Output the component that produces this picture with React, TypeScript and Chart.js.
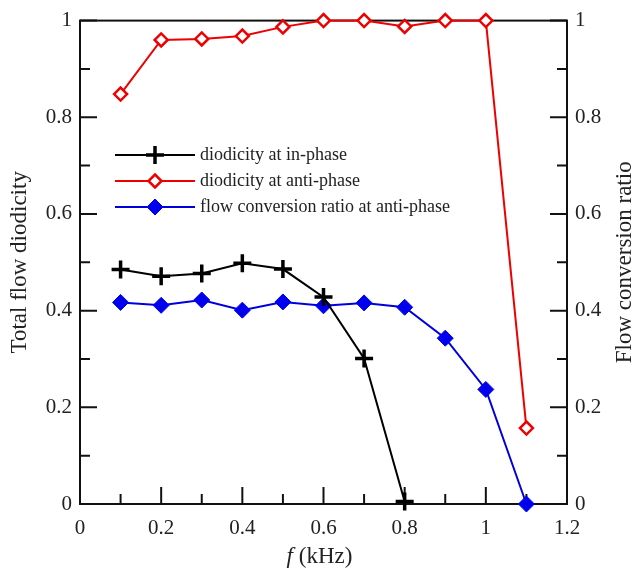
import React, { useEffect, useRef } from "react";
import { Chart, registerables } from "chart.js";

Chart.register(...registerables);

const freqInPhase = [0.1, 0.2, 0.3, 0.4, 0.5, 0.6, 0.7, 0.8];
const diodicityInPhase = [0.485, 0.471, 0.477, 0.498, 0.486, 0.428, 0.301, 0.005];

const freqAnti = [0.1, 0.2, 0.3, 0.4, 0.5, 0.6, 0.7, 0.8, 0.9, 1.0, 1.1];
const diodicityAnti = [0.848, 0.96, 0.962, 0.968, 0.987, 1.0, 1.0, 0.988, 1.0, 1.0, 0.157];
const conversionAnti = [0.417, 0.411, 0.422, 0.401, 0.418, 0.41, 0.416, 0.407, 0.343, 0.237, 0.0];

const seriesLabels = [
  "diodicity at in-phase",
  "diodicity at anti-phase",
  "flow conversion ratio at anti-phase",
];

const SERIF = "'Liberation Serif', 'DejaVu Serif', serif";

const fmt = (v: any) => String(Math.round(Number(v) * 10) / 10);

function drawMarker(ctx: CanvasRenderingContext2D, style: string, x: number, y: number, r: number) {
  ctx.beginPath();
  if (style === "cross") {
    ctx.moveTo(x - r, y);
    ctx.lineTo(x + r, y);
    ctx.moveTo(x, y - r);
    ctx.lineTo(x, y + r);
    ctx.stroke();
  } else {
    ctx.moveTo(x, y - r);
    ctx.lineTo(x + r, y);
    ctx.lineTo(x, y + r);
    ctx.lineTo(x - r, y);
    ctx.closePath();
    ctx.fill();
    ctx.stroke();
  }
}

const framePlugin = {
  id: "frameTicks",
  beforeDatasetsDraw(chart: any) {
    const { ctx, chartArea, scales } = chart;
    const { left, right, top, bottom } = chartArea;
    ctx.save();
    ctx.strokeStyle = "#111";
    ctx.lineWidth = 2;
    ctx.strokeRect(left, top, right - left, bottom - top);
    for (let i = 0; i <= 10; i++) {
      const v = i / 10;
      const len = i % 2 === 0 ? 17 : 10;
      const y = scales.y.getPixelForValue(v);
      ctx.beginPath();
      ctx.moveTo(left, y);
      ctx.lineTo(left + len, y);
      ctx.moveTo(right, y);
      ctx.lineTo(right - len, y);
      ctx.stroke();
    }
    for (let i = 0; i <= 12; i++) {
      const v = i / 10;
      const len = i % 2 === 0 ? 17 : 10;
      const x = scales.x.getPixelForValue(v);
      ctx.beginPath();
      ctx.moveTo(x, bottom);
      ctx.lineTo(x, bottom - len);
      ctx.stroke();
    }
    ctx.restore();
  },
  afterDraw(chart: any) {
    const { ctx, chartArea } = chart;
    const { left, right, top, bottom } = chartArea;
    const midY = (top + bottom) / 2;
    ctx.save();
    ctx.fillStyle = "#222";
    ctx.font = `23px ${SERIF}`;
    ctx.textAlign = "center";
    ctx.textBaseline = "middle";
    ctx.save();
    ctx.translate(20, midY);
    ctx.rotate(-Math.PI / 2);
    ctx.fillText("Total flow diodicity", 0, 0);
    ctx.restore();
    ctx.save();
    ctx.translate(625, midY);
    ctx.rotate(-Math.PI / 2);
    ctx.fillText("Flow conversion ratio", 0, 0);
    ctx.restore();

    ctx.textAlign = "left";
    ctx.font = `italic 23px ${SERIF}`;
    const fW = ctx.measureText("f").width;
    ctx.font = `23px ${SERIF}`;
    const restW = ctx.measureText(" (kHz)").width;
    const total = fW + restW;
    const cx = (left + right) / 2 - 4;
    const ty = 557;
    ctx.font = `italic 23px ${SERIF}`;
    ctx.fillText("f", cx - total / 2, ty);
    ctx.font = `23px ${SERIF}`;
    ctx.fillText(" (kHz)", cx - total / 2 + fW, ty);

    const rows = [155, 181, 207];
    const ds = chart.data.datasets;
    ctx.font = `18px ${SERIF}`;
    for (let i = 0; i < 3; i++) {
      const d = ds[i];
      const y = rows[i];
      ctx.strokeStyle = d.borderColor;
      ctx.lineWidth = 2;
      ctx.beginPath();
      ctx.moveTo(115, y);
      ctx.lineTo(195, y);
      ctx.stroke();
      ctx.save();
      ctx.lineWidth = d.pointBorderWidth;
      ctx.strokeStyle = d.pointBorderColor;
      ctx.fillStyle = d.pointBackgroundColor;
      drawMarker(ctx, d.pointStyle, 155, y, d.pointRadius);
      ctx.restore();
      ctx.fillStyle = "#222";
      ctx.fillText(seriesLabels[i], 200, y);
    }
    ctx.restore();
  },
};

export default function App() {
  const ref = useRef<HTMLCanvasElement>(null);
  useEffect(() => {
    if (!ref.current) return;
    const tickFont = { family: SERIF, size: 21 };
    const chart = new Chart(ref.current, {
      type: "line",
      data: {
        datasets: [
          {
            label: seriesLabels[0],
            data: freqInPhase.map((x, i) => ({ x, y: diodicityInPhase[i] })),
            borderColor: "#000000",
            borderWidth: 2,
            pointStyle: "cross",
            pointRadius: 9,
            pointBorderWidth: 3.5,
            pointBorderColor: "#000000",
            pointBackgroundColor: "#000000",
            yAxisID: "y",
            clip: false as any,
          },
          {
            label: seriesLabels[1],
            data: freqAnti.map((x, i) => ({ x, y: diodicityAnti[i] })),
            borderColor: "#ee0000",
            borderWidth: 2,
            pointStyle: "rectRot",
            pointRadius: 6.5,
            pointBorderWidth: 2.5,
            pointBorderColor: "#ee0000",
            pointBackgroundColor: "#ffffff",
            yAxisID: "y",
            clip: false as any,
          },
          {
            label: seriesLabels[2],
            data: freqAnti.map((x, i) => ({ x, y: conversionAnti[i] })),
            borderColor: "#0000dd",
            borderWidth: 2,
            pointStyle: "rectRot",
            pointRadius: 8,
            pointBorderWidth: 1,
            pointBorderColor: "#0000ee",
            pointBackgroundColor: "#0000ee",
            yAxisID: "y2",
            clip: false as any,
          },
        ],
      },
      options: {
        responsive: false,
        animation: false,
        layout: { padding: { top: 18, left: 0, right: 0, bottom: 0 } },
        plugins: {
          legend: { display: false },
          tooltip: { enabled: false },
        },
        scales: {
          x: {
            type: "linear",
            min: 0,
            max: 1.2,
            ticks: { stepSize: 0.2, font: tickFont, color: "#222", padding: 12, maxRotation: 0, callback: fmt },
            grid: { display: false, drawTicks: false },
            border: { display: false },
            afterFit: (s: any) => {
              s.height = 64;
            },
          },
          y: {
            type: "linear",
            position: "left",
            min: 0,
            max: 1,
            ticks: { stepSize: 0.2, font: tickFont, color: "#222", padding: 8, callback: fmt },
            grid: { display: false, drawTicks: false },
            border: { display: false },
            afterFit: (s: any) => {
              s.width = 80;
            },
          },
          y2: {
            type: "linear",
            position: "right",
            min: 0,
            max: 1,
            ticks: { stepSize: 0.2, font: tickFont, color: "#222", padding: 8, callback: fmt },
            grid: { display: false, drawTicks: false },
            border: { display: false },
            afterFit: (s: any) => {
              s.width = 67;
            },
          },
        },
      } as any,
      plugins: [framePlugin],
    });
    return () => chart.destroy();
  }, []);
  return (
    <div style={{ position: "absolute", left: 0, top: 0, width: 634, height: 568, background: "#fff" }}>
      <canvas ref={ref} width={634} height={568} style={{ display: "block" }} />
    </div>
  );
}
